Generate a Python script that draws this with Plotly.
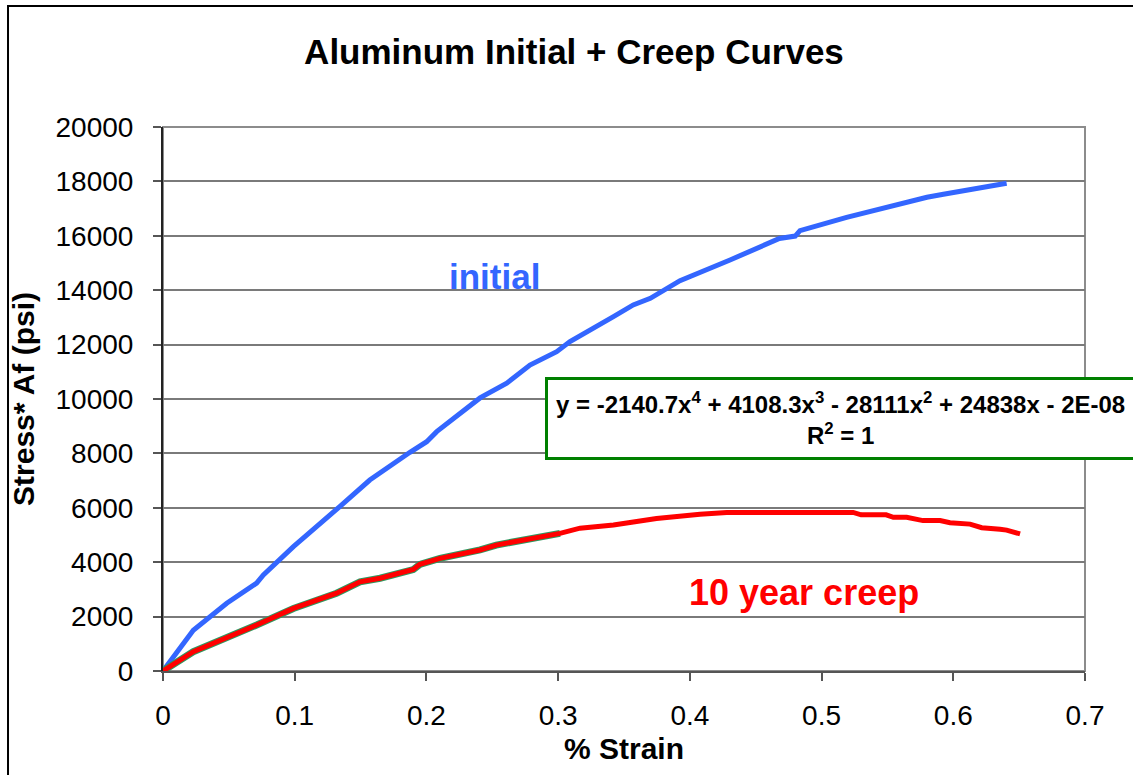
import plotly.graph_objects as go

# initial loading curve (% strain, stress*Af psi)
initial_strain = [0, 0.023, 0.0484, 0.0711, 0.0762, 0.099, 0.1344, 0.157, 0.1875, 0.2002,
                  0.2078, 0.2407, 0.261, 0.2786, 0.2989, 0.309, 0.342, 0.357, 0.370, 0.3925,
                  0.4305, 0.468, 0.48, 0.4836, 0.519, 0.5696, 0.58, 0.5925, 0.6178, 0.6304, 0.6405]
initial_stress = [0, 1500, 2490, 3230, 3530, 4570, 6055, 7020, 8040, 8430,
                  8800, 10040, 10580, 11250, 11740, 12110, 13030, 13460, 13700, 14350,
                  15110, 15900, 15990, 16190, 16680, 17320, 17415, 17525, 17750, 17870, 17930]

# 10 year creep curve
creep_strain = [0, 0.023, 0.0711, 0.099, 0.1318, 0.1496, 0.1648, 0.19, 0.195, 0.2103,
                0.2407, 0.253, 0.3014, 0.3166, 0.342, 0.3747, 0.4077, 0.428, 0.524, 0.530,
                0.549, 0.5545, 0.5646, 0.577, 0.59, 0.5975, 0.6127, 0.6216, 0.6355, 0.6405, 0.6507]
creep_stress = [0, 710, 1690, 2300, 2860, 3280, 3410, 3730, 3920, 4140,
                4450, 4630, 5060, 5250, 5370, 5610, 5760, 5830, 5830, 5740,
                5740, 5650, 5650, 5530, 5530, 5450, 5400, 5270, 5210, 5180, 5040]

# trendline (poly fit) covers the first part of the creep curve
trend_strain = [x for x in creep_strain if x <= 0.302]
trend_stress = creep_stress[:len(trend_strain)]

equation = ("y = -2140.7x<sup>4</sup> + 4108.3x<sup>3</sup> - 28111x<sup>2</sup>"
            " + 24838x - 2E-08<br>R<sup>2</sup> = 1")

FONT = "Liberation Sans, Arial, sans-serif"

fig = go.Figure()
fig.add_trace(go.Scatter(x=initial_strain, y=initial_stress, mode="lines",
                         line=dict(color="#3366FF", width=5), name="initial"))
fig.add_trace(go.Scatter(x=trend_strain, y=trend_stress, mode="lines",
                         line=dict(color="#2E9960", width=7), name="trend"))
fig.add_trace(go.Scatter(x=creep_strain, y=creep_stress, mode="lines",
                         line=dict(color="#FF0000", width=5), name="10 year creep"))

fig.update_layout(
    width=1133, height=775,
    margin=dict(l=163, r=48, t=127, b=104),
    paper_bgcolor="white", plot_bgcolor="white",
    showlegend=False,
    font=dict(family=FONT, color="black", size=28),
    title=dict(text="<b>Aluminum Initial + Creep Curves</b>", x=0.5066, xref="container",
               y=0.933, yanchor="middle", xanchor="center",
               font=dict(size=35, family=FONT, color="black")),
    xaxis=dict(range=[0, 0.7], dtick=0.1, tick0=0, showgrid=False, zeroline=False,
               showline=True, linecolor="#555555", linewidth=2,
               ticks="outside", ticklen=8, tickcolor="#555555", tickwidth=1.5,
               ticklabelstandoff=10,
               title=dict(text="<b>% Strain</b>", standoff=8, font=dict(size=30))),
    yaxis=dict(range=[0, 20000], dtick=2000, tick0=0, tickformat="d",
               showgrid=True, gridcolor="#7A7A7A", gridwidth=1.5, zeroline=False,
               showline=True, linecolor="#222222", linewidth=2,
               ticks="outside", ticklen=8, tickcolor="#555555", tickwidth=1.5,
               ticklabelstandoff=14,
               title=dict(text="<b>Stress* Af (psi)</b>", standoff=12, font=dict(size=30))),
)

# plot-area frame (top / right in grey)
fig.add_shape(type="rect", xref="paper", yref="paper", x0=0, x1=1, y0=0, y1=1,
              line=dict(color="#8C8C8C", width=2), layer="below")
# outer chart border
fig.add_shape(type="rect", xref="paper", yref="paper", x0=-0.1681, x1=1.1, y0=-0.3, y1=1.2224,
              line=dict(color="black", width=2))

fig.add_annotation(x=0.252, y=14522, xref="x", yref="y", text="<b>initial</b>",
                   showarrow=False, font=dict(size=35, color="#3366FF", family=FONT))
fig.add_annotation(x=0.4867, y=2868, xref="x", yref="y", text="<b>10 year creep</b>",
                   showarrow=False, font=dict(size=36, color="#FF0000", family=FONT))
fig.add_annotation(x=0.4143, y=0.5404, xref="paper", yref="paper", xanchor="left", yanchor="top",
                   text="<b>" + equation + "</b>", showarrow=False, align="center",
                   font=dict(size=24, color="black", family=FONT),
                   bordercolor="#008000", borderwidth=3, borderpad=8, bgcolor="white")

# drop the default page margin so the figure sits at the window's corner
fig.write_html("out.html", config={"displayModeBar": False},
               post_script="document.body.style.margin='0';")
